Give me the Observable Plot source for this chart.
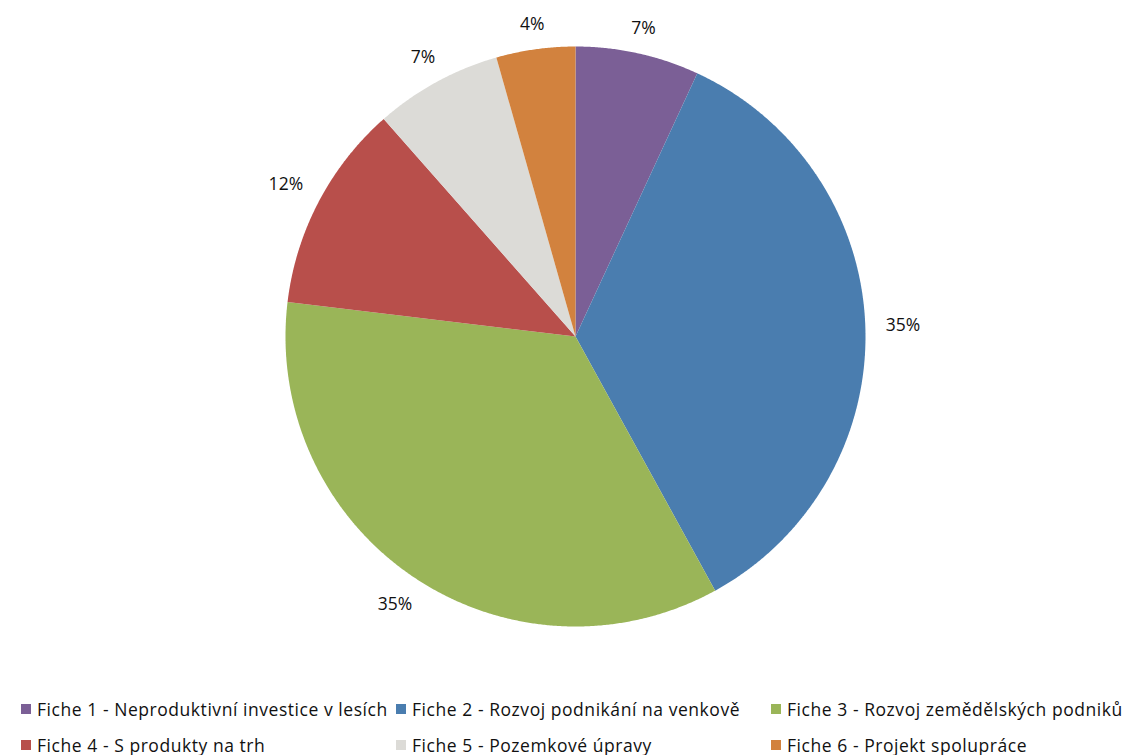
<!DOCTYPE html>
<html>
<head>
<meta charset="utf-8">
<script src="https://cdn.jsdelivr.net/npm/d3@7"></script>
<script src="https://cdn.jsdelivr.net/npm/@observablehq/plot@0.6"></script>
<style>
  html, body { margin: 0; padding: 0; background: #fff; overflow: hidden; }
  body { width: 1126px; height: 755px; font-family: "Open Sans", Lato, sans-serif; }
  #chart svg { display: block; }
  .legend { position: relative; height: 64px; font-size: 17.5px; letter-spacing: 0.55px; color: #111; }
  .item { position: absolute; display: flex; align-items: center; white-space: nowrap; height: 36px; }
  .sw { width: 10px; height: 10px; margin-right: 6px; }
</style>
</head>
<body>
<div id="chart"></div>
<div class="legend" id="legend"></div>
<script>
const categories = [
  "Fiche 1 - Neproduktivní investice v lesích",
  "Fiche 2 - Rozvoj podnikání na venkově",
  "Fiche 3 - Rozvoj zemědělských podniků",
  "Fiche 4 - S produkty na trh",
  "Fiche 5 - Pozemkové úpravy",
  "Fiche 6 - Projekt spolupráce"
];
const values = [6.9, 35.1, 34.9, 11.6, 7.1, 4.4];
const labels = ["7%", "35%", "35%", "12%", "7%", "4%"];
const colors = ["#7B5F96", "#4A7DAF", "#9AB558", "#B84F4B", "#DCDBD7", "#D2823E"];

const arcs = d3.pie().sort(null).value(d => d)(values);

// build slice polygons in unit-circle data coordinates
const slicePts = [];
arcs.forEach((a, i) => {
  const cat = categories[i];
  slicePts.push({cat, x: 0, y: 0});
  const n = Math.max(2, Math.ceil((a.endAngle - a.startAngle) / 0.005));
  for (let k = 0; k <= n; k++) {
    const t = a.startAngle + (a.endAngle - a.startAngle) * k / n;
    slicePts.push({cat, x: Math.sin(t), y: Math.cos(t)});
  }
  slicePts.push({cat, x: 0, y: 0});
});

// label placed outside the pie: gap from rim plus half its box along the radial direction
const R = 290;
const labelData = arcs.map((a, i) => {
  const m = (a.startAngle + a.endAngle) / 2;
  const w = labels[i].length * 12.3, h = 8;
  const d = (309 + (w / 2) * Math.abs(Math.sin(m)) + (h / 2) * Math.abs(Math.cos(m))) / R;
  return {label: labels[i], x: d * Math.sin(m), y: d * Math.cos(m)};
});

const chart = Plot.plot({
  width: 1126,
  height: 691,
  margin: 0,
  x: {domain: [-1, 1], range: [285, 865], axis: null},
  y: {domain: [-1, 1], range: [626, 46], axis: null},
  color: {domain: categories, range: colors},
  style: {fontFamily: "'Open Sans', Lato, sans-serif", background: "#fff"},
  marks: [
    Plot.line(slicePts, {x: "x", y: "y", z: "cat", fill: "cat", stroke: null, curve: "linear"}),
    Plot.text(labelData, {x: "x", y: "y", text: "label", fontSize: 17.5, fill: "#111", textAnchor: "middle", lineAnchor: "middle"})
  ]
});
document.getElementById("chart").appendChild(chart);

const legend = document.getElementById("legend");
const colX = [21, 396, 771];
categories.forEach((c, i) => {
  const it = document.createElement("div");
  it.className = "item";
  it.style.left = colX[i % 3] + "px";
  it.style.top = (Math.floor(i / 3) * 36) + "px";
  const sw = document.createElement("span");
  sw.className = "sw";
  sw.style.background = colors[i];
  const tx = document.createElement("span");
  tx.textContent = c;
  it.appendChild(sw);
  it.appendChild(tx);
  legend.appendChild(it);
});
</script>
</body>
</html>
